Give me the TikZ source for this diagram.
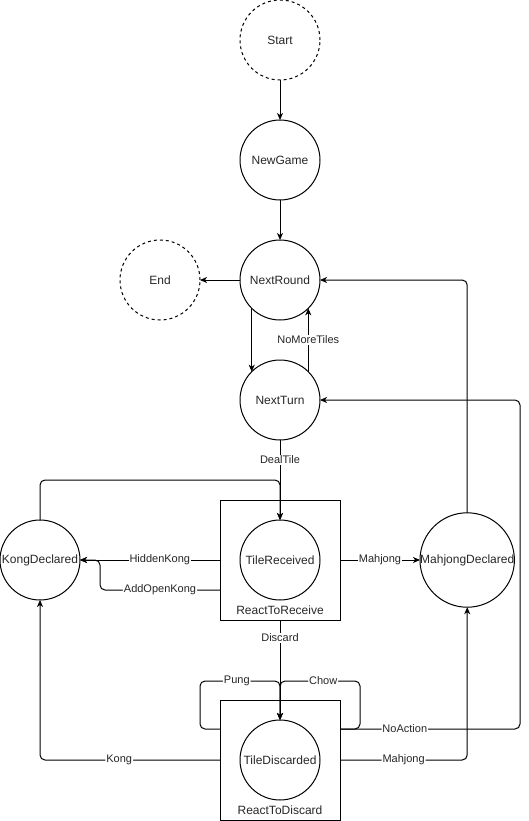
\documentclass[tikz,border=0pt]{standalone}
\usepackage{fontspec}
\setmainfont{Liberation Sans}
\usetikzlibrary{arrows.meta, positioning}

\begin{document}
\begin{tikzpicture}[
    x=1pt, y=-1pt,
    node distance=40pt and 40pt,
    state/.style={circle, draw, line width=1pt, minimum size=80pt, inner sep=0pt, outer sep=0pt, font=\fontsize{12}{14}\selectfont, text=black!85},
    terminal/.style={state, dash pattern=on 3pt off 3pt},
    group/.style={rectangle, draw, line width=1pt, minimum width=120pt, minimum height=120pt, outer sep=0pt},
    caption/.style={anchor=south, font=\fontsize{12}{14}\selectfont, text=black!85},
    lbl/.style={fill=white, inner sep=1pt, font=\fontsize{11}{13}\selectfont, text=black!85},
    arrow/.style={-{Stealth[length=7pt, width=6pt, inset=2pt]}, line width=1pt},
    elbow/.style={arrow, rounded corners=5pt}
]
    \useasboundingbox (0,0) rectangle (529,821);

    \node[terminal] (start) at (280,40) {Start};
    \node[state, below=of start] (newgame) {NewGame};
    \node[state, below=of newgame] (nextround) {NextRound};
    \node[terminal, left=of nextround] (end) {End};
    \node[state, below=of nextround] (nextturn) {NextTurn};

    \node[state, below=80pt of nextturn] (tilereceived) {TileReceived};
    \node[group] (receive) at (tilereceived) {};
    \node[caption, above=2pt of receive.south, anchor=south] (receivecap) {ReactToReceive};
    \node[state, left=160pt of tilereceived] (kong) {KongDeclared};
    \node[state, right=100pt of tilereceived] (mahjong) {MahjongDeclared};

    \node[state, below=120pt of tilereceived] (tilediscarded) {TileDiscarded};
    \node[group] (discard) at (tilediscarded) {};
    \node[caption, above=2pt of discard.south, anchor=south] (discardcap) {ReactToDiscard};

    \draw[arrow] (start) -- (newgame);
    \draw[arrow] (newgame) -- (nextround);
    \draw[arrow] (nextround) -- (end);
    \draw[arrow] (nextround.225) -- (nextturn.135);
    \draw[arrow] (nextturn.45) -- node[lbl]{NoMoreTiles} (nextround.-45);
    \draw[arrow] (nextturn) -- node[lbl, pos=0.25]{DealTile} (tilereceived);
    \draw[elbow] (kong.north) -- ++(0,-40) -| (tilereceived.north);

    \draw[arrow] (receive.west |- tilereceived) -- node[lbl, pos=0.43]{HiddenKong} (kong.east);
    \draw[elbow] ([yshift=-30pt]receive.west) -- node[lbl]{AddOpenKong} ++(-120,0) |- (kong.east);
    \draw[arrow] (receive.east |- tilereceived) -- node[lbl, pos=0.5]{Mahjong} (mahjong.west);
    \draw[elbow] (mahjong.north) |- (nextround.east);
    \draw[arrow] (receive.south) -- node[lbl, pos=0.18]{Discard} (tilediscarded.north);

    \draw[elbow] ([yshift=31pt]discard.west) -- ++(-20,0) -- ++(0,-48) -- node[lbl, pos=0.46]{Pung} ++(80,0) -- (tilediscarded.north);
    \draw[elbow] ([yshift=31pt]discard.east) -- ++(20,0) -- ++(0,-48) -- node[lbl, pos=0.46]{Chow} ++(-80,0) -- (tilediscarded.north);
    \draw[elbow] ([yshift=31pt]discard.east) -- node[lbl, pos=0.36]{NoAction} ++(180,0) |- (nextturn.east);
    \draw[elbow] (discard.east) -| node[lbl, pos=0.25]{Mahjong} (mahjong.south);
    \draw[elbow] (discard.west) -| node[lbl, pos=0.28]{Kong} (kong.south);
\end{tikzpicture}
\end{document}
